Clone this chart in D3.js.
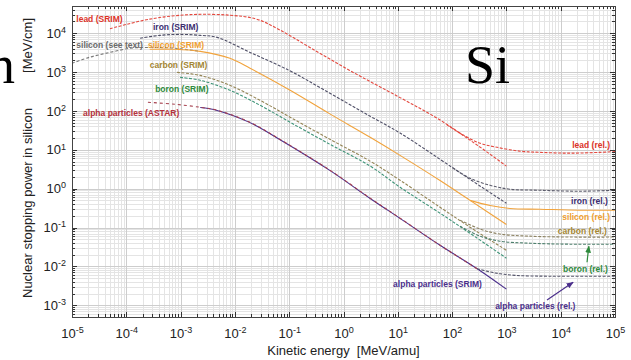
<!DOCTYPE html>
<html>
<head>
<meta charset="utf-8">
<script src="https://cdn.jsdelivr.net/npm/d3@7"></script>
<style>
  body { margin: 0; background: #fff; }
  svg { display: block; font-family: "Liberation Sans", Arial, sans-serif; }
  .grid-minor line { stroke: #e4e4e4; shape-rendering: crispEdges; }
  .grid-major line { stroke: #cdcdcd; shape-rendering: crispEdges; }
  .axis path { display: none; }
  .axis line { stroke: #333; shape-rendering: crispEdges; }
  .lbl { font-weight: bold; font-size: 8.5px; }
</style>
</head>
<body>
<div id="chart"></div>
<script>
// tick labels (powers of ten)
const xTicks = [1e-5, 1e-4, 1e-3, 1e-2, 1e-1, 1e0, 1e1, 1e2, 1e3, 1e4, 1e5]
const yTicks = [1e-3, 1e-2, 1e-1, 1e0, 1e1, 1e2, 1e3, 1e4]

// [kinetic energy MeV/amu, nuclear stopping power MeV/cm]
const leadSRIM = [[5e-5, 1.3e4], [2.7e-4, 2.3e4], [1.5e-3, 3.0e4], [8e-3, 2.9e4], [0.025, 2.3e4], [0.068, 1.2e4],
  [0.24, 4300], [1.3, 1100], [11, 220], [53, 65], [210, 18], [500, 7.7], [1000, 3.8]]
const leadRel = [[80, 44], [160, 24], [330, 14.7], [670, 11.6], [1800, 9.2], [4200, 8.6], [15000, 8.2], [53000, 8.6], [1e5, 9.0]]

const ironSRIM = [[1.8e-4, 7400], [4.2e-4, 8800], [9.8e-4, 9300], [2.3e-3, 8800], [4.7e-3, 7800], [0.019, 3200],
  [0.10, 1100], [0.42, 360], [3.1, 73], [11, 27], [104, 3.4], [330, 1.16], [1000, 0.42]]
const ironRel = [[104, 3.4], [214, 1.85], [500, 1.22], [1160, 0.97], [4200, 0.91], [22600, 0.86], [1e5, 0.91]]

const siliconText = [[1e-5, 1680], [2.1e-5, 2400], [5e-5, 3200], [1.2e-4, 4100], [2.7e-4, 4300], [7.9e-4, 4100], [2.3e-3, 3400]]
const siliconSRIM = [[2.7e-4, 3850], [7.9e-4, 3850], [2.3e-3, 3400], [8.1e-3, 2250], [0.019, 1250], [0.104, 340],
  [0.56, 84], [3.1, 21], [11, 7.2], [60, 1.62], [214, 0.50], [1000, 0.12]]
const siliconRel = [[214, 0.50], [500, 0.37], [1160, 0.31], [4200, 0.296], [22600, 0.279], [1e5, 0.279]]

const carbonSRIM = [[8.6e-4, 980], [2.3e-3, 820], [8.1e-3, 456], [0.029, 188], [0.104, 69], [0.56, 18.7],
  [3.1, 5.1], [11, 1.65], [60, 0.333], [214, 0.102], [1000, 0.026]]
const carbonRel = [[140, 0.155], [330, 0.091], [760, 0.068], [2700, 0.060], [14800, 0.057], [1e5, 0.057]]

const boronSRIM = [[9.8e-4, 730], [2.3e-3, 614], [8.1e-3, 340], [0.029, 140], [0.104, 51], [0.56, 13.9],
  [3.1, 3.8], [11, 1.09], [60, 0.234], [214, 0.071], [1000, 0.0163]]
const boronRel = [[140, 0.108], [330, 0.060], [760, 0.0446], [2700, 0.0396], [14800, 0.0373], [1e5, 0.0373]]

const alphaASTAR = [[2.5e-4, 167], [7.9e-4, 148], [2.3e-3, 124], [4.7e-3, 104], [0.019, 51], [0.077, 16.6],
  [0.56, 3.0], [3.1, 0.57], [11, 0.174], [60, 0.035], [290, 0.0087]]
const alphaSRIM = [[2.3e-3, 122], [4.7e-3, 103], [0.019, 50], [0.077, 16.4], [0.56, 2.95], [3.1, 0.56],
  [11, 0.172], [60, 0.035], [290, 0.0087], [1000, 0.0026]]
const alphaRel = [[290, 0.0087], [620, 0.0068], [1440, 0.0059], [6350, 0.0056], [53000, 0.0056], [1e5, 0.0056]]

const series = [
  { data: siliconText, color: "#7a7a7a", dash: "3,2" },
  { data: leadSRIM, color: "#e4483e", dash: "3,1.5" },
  { data: leadRel, color: "#e4483e", dash: "3,1.5" },
  { data: ironSRIM, color: "#4e4e66", dash: "3,1.5" },
  { data: ironRel, color: "#5c5c6c", dash: "3,1.5" },
  { data: siliconSRIM, color: "#f1a33c", dash: null },
  { data: siliconRel, color: "#f1a33c", dash: null },
  { data: carbonSRIM, color: "#948556", dash: "3,1.5" },
  { data: carbonRel, color: "#8c8262", dash: "3,1.5" },
  { data: boronSRIM, color: "#3f9478", dash: "3,1.5" },
  { data: boronRel, color: "#4d7f6c", dash: "3,1.5" },
  { data: alphaSRIM, color: "#4b2f8c", dash: null },
  { data: alphaASTAR, color: "#a6404e", dash: "3,3" },
  { data: alphaRel, color: "#55556a", dash: "3,1.5" }
]

// text annotations, placed in data coordinates
const labels = [
  { text: "lead (SRIM)", e: 1.2e-5, s: 2.3e4, anchor: "start", color: "#dc3328" },
  { text: "iron (SRIM)", e: 3.1e-4, s: 1.4e4, anchor: "start", color: "#3b2d70" },
  { text: "silicon (see text)", e: 1.2e-5, s: 4900, anchor: "start", color: "#6a6a6a" },
  { text: "silicon (SRIM)", e: 2.5e-4, s: 4900, anchor: "start", color: "#f0a030" },
  { text: "carbon (SRIM)", e: 2.7e-4, s: 1500, anchor: "start", color: "#a38633" },
  { text: "boron (SRIM)", e: 3.4e-4, s: 360, anchor: "start", color: "#2e8a3c" },
  { text: "alpha particles (ASTAR)", e: 1.6e-5, s: 87, anchor: "start", color: "#b5323c" },
  { text: "lead (rel.)", e: 8.1e4, s: 13.1, anchor: "end", color: "#dc3328" },
  { text: "iron (rel.)", e: 7.4e4, s: 0.475, anchor: "end", color: "#3b2d70" },
  { text: "silicon (rel.)", e: 8.1e4, s: 0.185, anchor: "end", color: "#f0a030" },
  { text: "carbon (rel.)", e: 7.1e4, s: 0.080, anchor: "end", color: "#a38633" },
  { text: "boron (rel.)", e: 7.4e4, s: 0.0085, anchor: "end", color: "#2e8a3c" },
  { text: "alpha particles (SRIM)", e: 8.2, s: 0.0035, anchor: "start", color: "#4b2f8c" },
  { text: "alpha particles (rel.)", e: 620, s: 0.00095, anchor: "start", color: "#4b2f8c" }
]
const arrows = [
  { from: [3.05e4, 0.0128], to: [3.3e4, 0.033], color: "#2e8a3c" },
  { from: [5.6e3, 0.00136], to: [1.69e4, 0.0039], color: "#4b2f8c" }
]

const W = 631, H = 360
const margin = { top: 6, right: 16, bottom: 43, left: 72 }
const width = W - margin.left - margin.right
const height = H - margin.top - margin.bottom

const svg = d3.select("#chart").append("svg").attr("width", W).attr("height", H)

// big letters cropped in from the surrounding figure
svg.append("text").attr("x", -12).attr("y", 83)
  .attr("font-family", "'Liberation Serif', 'Times New Roman', serif").attr("font-size", 54).text("n")

const g = svg.append("g").attr("transform", "translate(" + margin.left + "," + margin.top + ")")

const x = d3.scaleLog().domain([1e-5, 1e5]).range([0, width])
const y = d3.scaleLog().domain([5e-4, 5e4]).range([height, 0])

function minorTicks(lo, hi) {
  let out = []
  for (let k = Math.floor(Math.log10(lo)); k <= Math.ceil(Math.log10(hi)); k++) {
    for (let m = 2; m < 10; m++) {
      let v = m * Math.pow(10, k)
      if (v >= lo * 0.999 && v <= hi * 1.001) out.push(v)
    }
  }
  return out
}
const xMinor = minorTicks(1e-5, 1e5)
const yMinor = minorTicks(5e-4, 5e4)

// grid
const gm = g.append("g").attr("class", "grid-minor")
gm.selectAll(".vx").data(xMinor).enter().append("line")
  .attr("x1", d => Math.round(x(d)) + 0.5).attr("x2", d => Math.round(x(d)) + 0.5).attr("y1", 0).attr("y2", height)
gm.selectAll(".hy").data(yMinor).enter().append("line")
  .attr("y1", d => Math.round(y(d)) + 0.5).attr("y2", d => Math.round(y(d)) + 0.5).attr("x1", 0).attr("x2", width)
const gM = g.append("g").attr("class", "grid-major")
gM.selectAll(".vx").data(xTicks).enter().append("line")
  .attr("x1", d => Math.round(x(d)) + 0.5).attr("x2", d => Math.round(x(d)) + 0.5).attr("y1", 0).attr("y2", height)
gM.selectAll(".hy").data(yTicks).enter().append("line")
  .attr("y1", d => Math.round(y(d)) + 0.5).attr("y2", d => Math.round(y(d)) + 0.5).attr("x1", 0).attr("x2", width)

svg.append("text").attr("x", 465).attr("y", 83)
  .attr("font-family", "'Liberation Serif', 'Times New Roman', serif").attr("font-size", 54).text("Si")

// curves
g.append("clipPath").attr("id", "clip").append("rect").attr("width", width).attr("height", height)
const line = d3.line().x(d => x(d[0])).y(d => y(d[1])).curve(d3.curveCatmullRom.alpha(0.5))
const curves = g.append("g").attr("clip-path", "url(#clip)")
series.forEach(s => {
  curves.append("path").datum(s.data)
    .attr("d", line)
    .attr("fill", "none")
    .attr("stroke", s.color)
    .attr("stroke-width", 1.1)
    .attr("stroke-dasharray", s.dash)
})

// axes
function powerLabels(sel) {
  sel.selectAll(".tick text").text(null).each(function (d) {
    let t = d3.select(this)
    t.append("tspan").text("10")
    t.append("tspan").attr("dy", "-0.55em").attr("font-size", "9px").text(Math.round(Math.log10(d)))
  })
}
function styleAxis(sel) {
  sel.attr("font-size", 13).attr("font-family", "'Liberation Sans', Arial, sans-serif").attr("class", "axis")
  sel.selectAll(".tick text").attr("fill", "#222")
}

g.append("g").attr("transform", "translate(0," + height + ")")
  .call(d3.axisBottom(x).tickValues(xTicks).tickSizeInner(-5).tickSizeOuter(0).tickPadding(12))
  .call(styleAxis).call(powerLabels)
g.append("g").attr("transform", "translate(0," + height + ")")
  .call(d3.axisBottom(x).tickValues(xMinor).tickSizeInner(-3).tickSizeOuter(0).tickFormat(""))
  .call(styleAxis)
g.append("g")
  .call(d3.axisTop(x).tickValues(xTicks).tickSizeInner(-5).tickSizeOuter(0).tickFormat("")).call(styleAxis)
g.append("g")
  .call(d3.axisTop(x).tickValues(xMinor).tickSizeInner(-3).tickSizeOuter(0).tickFormat("")).call(styleAxis)

g.append("g")
  .call(d3.axisLeft(y).tickValues(yTicks).tickSizeInner(-5).tickSizeOuter(0).tickPadding(6))
  .call(styleAxis).call(powerLabels)
g.append("g")
  .call(d3.axisLeft(y).tickValues(yMinor).tickSizeInner(-3).tickSizeOuter(0).tickFormat("")).call(styleAxis)
g.append("g").attr("transform", "translate(" + width + ",0)")
  .call(d3.axisRight(y).tickValues(yTicks).tickSizeInner(-5).tickSizeOuter(0).tickFormat("")).call(styleAxis)
g.append("g").attr("transform", "translate(" + width + ",0)")
  .call(d3.axisRight(y).tickValues(yMinor).tickSizeInner(-3).tickSizeOuter(0).tickFormat("")).call(styleAxis)

g.append("rect").attr("width", width).attr("height", height)
  .attr("fill", "none").attr("stroke", "#444").attr("stroke-width", 1).attr("shape-rendering", "crispEdges")

// axis titles
svg.append("text")
  .attr("transform", "translate(32,298) rotate(-90)")
  .attr("font-size", 13).attr("fill", "#222").text("Nuclear stopping power in silicon")
svg.append("text")
  .attr("transform", "translate(32,18) rotate(-90)")
  .attr("text-anchor", "end").attr("font-size", 13).attr("fill", "#222").text("[MeV/cm]")
svg.append("text")
  .attr("x", margin.left + x(1)).attr("y", 355).attr("text-anchor", "middle")
  .attr("font-size", 13).attr("fill", "#222").attr("xml:space", "preserve").text("Kinetic energy  [MeV/amu]")

// annotations
g.selectAll(".lbl").data(labels).enter().append("text")
  .attr("class", "lbl")
  .attr("x", d => x(d.e)).attr("y", d => y(d.s)).attr("dy", "0.35em")
  .attr("text-anchor", d => d.anchor).attr("fill", d => d.color)
  .text(d => d.text)

const defs = svg.append("defs")
arrows.forEach((a, i) => {
  defs.append("marker").attr("id", "ah" + i).attr("viewBox", "0 0 10 10").attr("refX", 9).attr("refY", 5)
    .attr("markerWidth", 6).attr("markerHeight", 6).attr("orient", "auto")
    .append("path").attr("d", "M0,1L10,5L0,9z").attr("fill", a.color)
  g.append("line")
    .attr("x1", x(a.from[0])).attr("y1", y(a.from[1]))
    .attr("x2", x(a.to[0])).attr("y2", y(a.to[1]))
    .attr("stroke", a.color).attr("stroke-width", 1.2).attr("marker-end", "url(#ah" + i + ")")
})
</script>
</body>
</html>
